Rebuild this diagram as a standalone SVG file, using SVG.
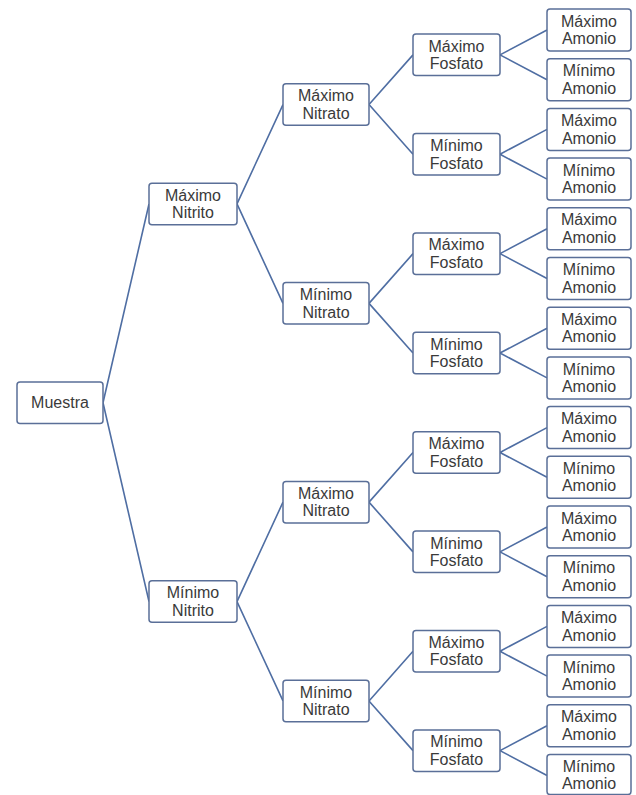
<svg xmlns="http://www.w3.org/2000/svg" width="636" height="795" viewBox="0 0 636 795">
<style>
.n{fill:#fff;stroke:#5a6f98;stroke-width:1.5}
.t{font-family:"Liberation Sans",Arial,sans-serif;font-size:16px;fill:#3a3a3a;text-anchor:middle}
.c{stroke:#4f6ea3;stroke-width:1.6;fill:none}
</style>
<rect width="636" height="795" fill="#fff"/>
<g id="connectors" class="c">
<path d="M103,402.75L149,203.95M103,402.75L149,601.55"/>
<path d="M237,203.95L283,104.55M237,203.95L283,303.35M237,601.55L283,502.15M237,601.55L283,700.95"/>
<path d="M369,104.55L413,54.85M369,104.55L413,154.25M369,303.35L413,253.65M369,303.35L413,353.05M369,502.15L413,452.45M369,502.15L413,551.85M369,700.95L413,651.25M369,700.95L413,750.65"/>
<path d="M500,54.85L547,30M500,54.85L547,79.7M500,154.25L547,129.4M500,154.25L547,179.1M500,253.65L547,228.8M500,253.65L547,278.5M500,353.05L547,328.2M500,353.05L547,377.9M500,452.45L547,427.6M500,452.45L547,477.3M500,551.85L547,527M500,551.85L547,576.7M500,651.25L547,626.4M500,651.25L547,676.1M500,750.65L547,725.8M500,750.65L547,775.5"/>
</g>
<g id="muestra"><rect class="n" x="17" y="382" width="86" height="41.5" rx="3"/><text class="t" x="60" y="408">Muestra</text></g>
<g id="nitrito1"><rect class="n" x="149" y="183.2" width="88" height="41.5" rx="3"/><text class="t" x="193"><tspan x="193" y="200.5">Máximo</tspan><tspan x="193" y="218">Nitrito</tspan></text></g>
<g id="nitrito2"><rect class="n" x="149" y="580.8" width="88" height="41.5" rx="3"/><text class="t"><tspan x="193" y="598">Mínimo</tspan><tspan x="193" y="615.5">Nitrito</tspan></text></g>
<g id="nitrato1"><rect class="n" x="283" y="83.8" width="86" height="41.5" rx="3"/><text class="t"><tspan x="326" y="101">Máximo</tspan><tspan x="326" y="118.5">Nitrato</tspan></text></g>
<g id="nitrato2"><rect class="n" x="283" y="282.6" width="86" height="41.5" rx="3"/><text class="t"><tspan x="326" y="300">Mínimo</tspan><tspan x="326" y="317.5">Nitrato</tspan></text></g>
<g id="nitrato3"><rect class="n" x="283" y="481.4" width="86" height="41.5" rx="3"/><text class="t"><tspan x="326" y="498.5">Máximo</tspan><tspan x="326" y="516">Nitrato</tspan></text></g>
<g id="nitrato4"><rect class="n" x="283" y="680.2" width="86" height="41.5" rx="3"/><text class="t"><tspan x="326" y="697.5">Mínimo</tspan><tspan x="326" y="715">Nitrato</tspan></text></g>
<g id="fosfato1"><rect class="n" x="413" y="34.1" width="87" height="41.5" rx="3"/><text class="t"><tspan x="456.5" y="51.5">Máximo</tspan><tspan x="456.5" y="69">Fosfato</tspan></text></g>
<g id="fosfato2"><rect class="n" x="413" y="133.5" width="87" height="41.5" rx="3"/><text class="t"><tspan x="456.5" y="151">Mínimo</tspan><tspan x="456.5" y="168.5">Fosfato</tspan></text></g>
<g id="fosfato3"><rect class="n" x="413" y="232.9" width="87" height="41.5" rx="3"/><text class="t"><tspan x="456.5" y="250">Máximo</tspan><tspan x="456.5" y="267.5">Fosfato</tspan></text></g>
<g id="fosfato4"><rect class="n" x="413" y="332.3" width="87" height="41.5" rx="3"/><text class="t"><tspan x="456.5" y="349.5">Mínimo</tspan><tspan x="456.5" y="367">Fosfato</tspan></text></g>
<g id="fosfato5"><rect class="n" x="413" y="431.7" width="87" height="41.5" rx="3"/><text class="t"><tspan x="456.5" y="449">Máximo</tspan><tspan x="456.5" y="466.5">Fosfato</tspan></text></g>
<g id="fosfato6"><rect class="n" x="413" y="531.1" width="87" height="41.5" rx="3"/><text class="t"><tspan x="456.5" y="548.5">Mínimo</tspan><tspan x="456.5" y="566">Fosfato</tspan></text></g>
<g id="fosfato7"><rect class="n" x="413" y="630.5" width="87" height="41.5" rx="3"/><text class="t"><tspan x="456.5" y="647.5">Máximo</tspan><tspan x="456.5" y="665">Fosfato</tspan></text></g>
<g id="fosfato8"><rect class="n" x="413" y="729.9" width="87" height="41.5" rx="3"/><text class="t"><tspan x="456.5" y="747">Mínimo</tspan><tspan x="456.5" y="764.5">Fosfato</tspan></text></g>
<g id="amonio1"><rect class="n" x="547" y="9" width="84" height="42" rx="3"/><text class="t"><tspan x="589" y="26.5">Máximo</tspan><tspan x="589" y="44">Amonio</tspan></text></g>
<g id="amonio2"><rect class="n" x="547" y="58.7" width="84" height="42" rx="3"/><text class="t"><tspan x="589" y="76">Mínimo</tspan><tspan x="589" y="93.5">Amonio</tspan></text></g>
<g id="amonio3"><rect class="n" x="547" y="108.4" width="84" height="42" rx="3"/><text class="t"><tspan x="589" y="126">Máximo</tspan><tspan x="589" y="143.5">Amonio</tspan></text></g>
<g id="amonio4"><rect class="n" x="547" y="158.1" width="84" height="42" rx="3"/><text class="t"><tspan x="589" y="175.5">Mínimo</tspan><tspan x="589" y="193">Amonio</tspan></text></g>
<g id="amonio5"><rect class="n" x="547" y="207.8" width="84" height="42" rx="3"/><text class="t"><tspan x="589" y="225">Máximo</tspan><tspan x="589" y="242.5">Amonio</tspan></text></g>
<g id="amonio6"><rect class="n" x="547" y="257.5" width="84" height="42" rx="3"/><text class="t"><tspan x="589" y="275">Mínimo</tspan><tspan x="589" y="292.5">Amonio</tspan></text></g>
<g id="amonio7"><rect class="n" x="547" y="307.2" width="84" height="42" rx="3"/><text class="t"><tspan x="589" y="324.5">Máximo</tspan><tspan x="589" y="342">Amonio</tspan></text></g>
<g id="amonio8"><rect class="n" x="547" y="356.9" width="84" height="42" rx="3"/><text class="t"><tspan x="589" y="374.5">Mínimo</tspan><tspan x="589" y="392">Amonio</tspan></text></g>
<g id="amonio9"><rect class="n" x="547" y="406.6" width="84" height="42" rx="3"/><text class="t"><tspan x="589" y="424">Máximo</tspan><tspan x="589" y="441.5">Amonio</tspan></text></g>
<g id="amonio10"><rect class="n" x="547" y="456.3" width="84" height="42" rx="3"/><text class="t"><tspan x="589" y="473.5">Mínimo</tspan><tspan x="589" y="491">Amonio</tspan></text></g>
<g id="amonio11"><rect class="n" x="547" y="506" width="84" height="42" rx="3"/><text class="t"><tspan x="589" y="523.5">Máximo</tspan><tspan x="589" y="541">Amonio</tspan></text></g>
<g id="amonio12"><rect class="n" x="547" y="555.7" width="84" height="42" rx="3"/><text class="t"><tspan x="589" y="573">Mínimo</tspan><tspan x="589" y="590.5">Amonio</tspan></text></g>
<g id="amonio13"><rect class="n" x="547" y="605.4" width="84" height="42" rx="3"/><text class="t"><tspan x="589" y="623">Máximo</tspan><tspan x="589" y="640.5">Amonio</tspan></text></g>
<g id="amonio14"><rect class="n" x="547" y="655.1" width="84" height="42" rx="3"/><text class="t"><tspan x="589" y="672.5">Mínimo</tspan><tspan x="589" y="690">Amonio</tspan></text></g>
<g id="amonio15"><rect class="n" x="547" y="704.8" width="84" height="42" rx="3"/><text class="t"><tspan x="589" y="722">Máximo</tspan><tspan x="589" y="739.5">Amonio</tspan></text></g>
<g id="amonio16"><rect class="n" x="547" y="754.5" width="84" height="40" rx="3"/><text class="t"><tspan x="589" y="771.5">Mínimo</tspan><tspan x="589" y="789">Amonio</tspan></text></g>
</svg>
